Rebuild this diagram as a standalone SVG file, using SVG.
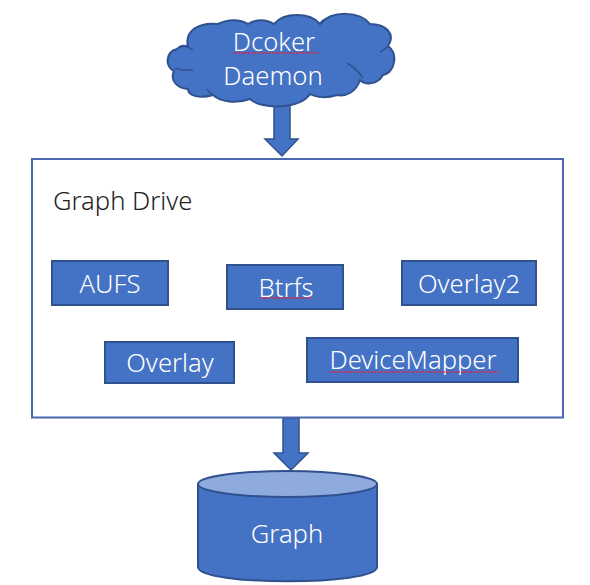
<svg xmlns="http://www.w3.org/2000/svg" width="590" height="585" viewBox="0 0 590 585">
<style>
.s{fill:#4472c4;stroke:#2f528f;stroke-width:2}
.t{font-family:"Noto Sans","Open Sans",sans-serif;font-weight:300;font-size:25.600px;fill:#fff;text-anchor:middle}
.w{fill:none;stroke:#d8284c;stroke-width:1.500;stroke-dasharray:2 1}
.d{fill:none;stroke:#2f528f;stroke-width:1.500}
</style>
<rect width="590" height="585" fill="#fff"/>
<g id="connectors">
<path class="s" style="stroke-width:1.500" d="M274 103H290V139H298L282 156L265 139H274Z"/>
<path class="s" style="stroke-width:1.500" d="M283 418H299V453H308L291 470L274 453H283Z"/>
</g>
<g id="graph-drive">
<rect x="32" y="159" width="531" height="258.500" fill="#fff" stroke="#4a69ac" stroke-width="2"/>
<text x="53" y="210" style="font-family:'Noto Sans','Open Sans',sans-serif;font-weight:300;font-size:25.600px;fill:#222">Graph Drive</text>
</g>
<g id="cloud">
<path class="s" d="M188 47C184 30 200 22 218 24C228 19 240 19 248 24C256 19 266 19 274 24C284 12 310 12 320 24C332 10 360 11 370 24C386 24 396 34 388 46C398 52 396 72 383 75C378 84 366 86 360 80C356 92 346 97 337 95C328 98 317 98 310 94C300 109 262 110 250 99C236 104 221 102 213 95C200 99 188 96 188 89C176 88 170 80 174 71C165 67 165 52 177 49C180 46 184 45 188 47Z"/>
<path class="d" d="M188 47Q191 49 193 50M175 68Q183 71 193 70M213 95Q209 93 207 89M347 63Q357 69 363 78M380 52Q385 50 388 46M320 24Q322 21 323 20"/>
<text class="t" x="274" y="51">Dcoker</text>
<text class="t" x="273" y="85">Daemon</text>
<path class="w" d="M233 53H318"/>
</g>
<g id="aufs"><rect class="s" x="52" y="261" width="116" height="44"/><text class="t" x="110" y="293">AUFS</text></g>
<g id="btrfs"><rect class="s" x="227" y="265" width="116" height="44"/><text class="t" x="286" y="297">Btrfs</text><path class="w" d="M260 298H312"/></g>
<g id="overlay2"><rect class="s" x="402" y="261" width="134" height="44"/><text class="t" x="469" y="293">Overlay2</text></g>
<g id="overlay"><rect class="s" x="105" y="342" width="129" height="41"/><text class="t" x="170" y="372">Overlay</text></g>
<g id="devicemapper"><rect class="s" x="307" y="338" width="211" height="44"/><text class="t" x="413" y="369">DeviceMapper</text><path class="w" d="M329 372H500"/></g>
<g id="graph">
<path class="s" d="M198 484V567C198 586 377 586 377 567V484Z"/>
<ellipse cx="287.500" cy="484" rx="89.500" ry="13" fill="#8faadc" stroke="#2f528f" stroke-width="2"/>
<text class="t" x="287" y="543">Graph</text>
</g>
</svg>
